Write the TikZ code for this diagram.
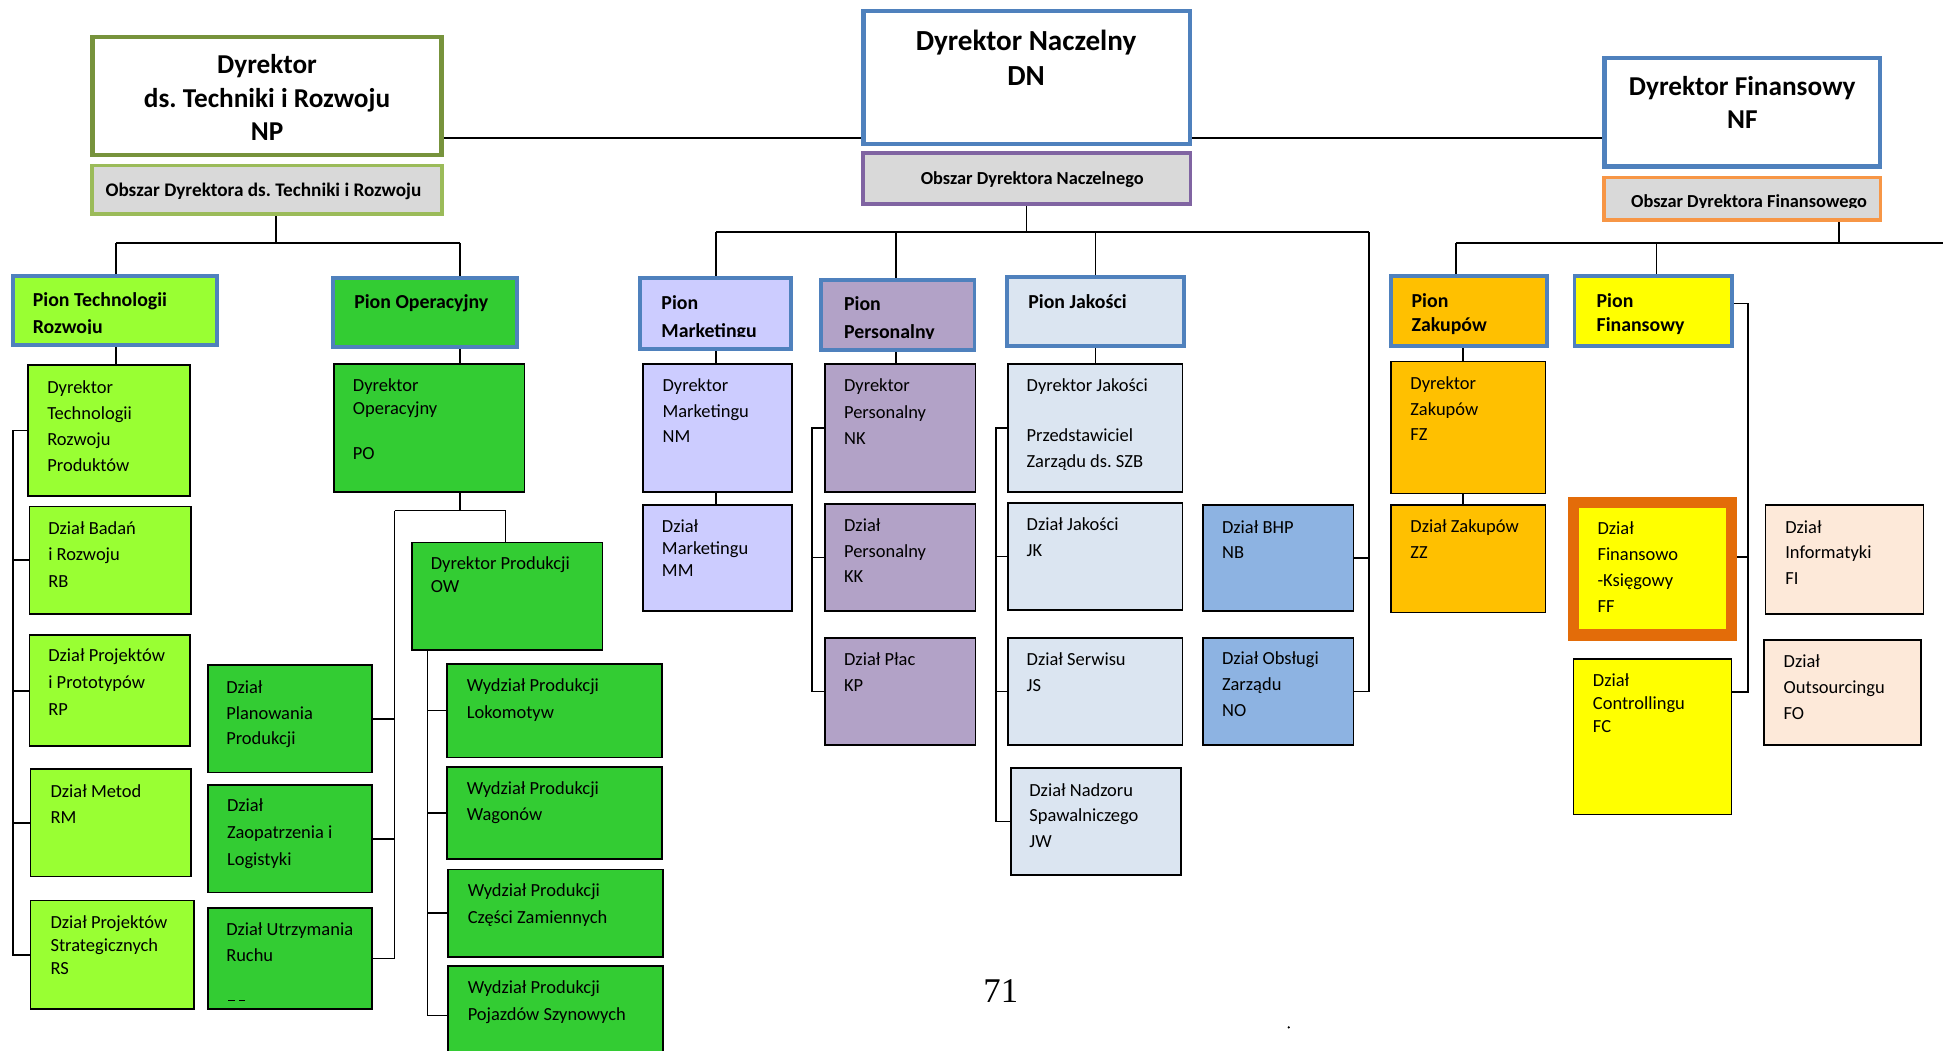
\documentclass[tikz,border=0pt]{standalone}
\usepackage{fontspec}
\setmainfont{Carlito}
\newfontfamily\pgnumfont{Liberation Serif}
\usetikzlibrary{backgrounds}
\definecolor{cOlive}{HTML}{77933C}
\definecolor{cLGreenBd}{HTML}{9BBB59}
\definecolor{cArea}{HTML}{D9D9D9}
\definecolor{cBlueBd}{HTML}{4F81BD}
\definecolor{cPurpleBd}{HTML}{8064A2}
\definecolor{cOrangeBd}{HTML}{F79646}
\definecolor{cFFBd}{HTML}{E36C09}
\definecolor{cLime}{HTML}{99FF33}
\definecolor{cGreen}{HTML}{33CC33}
\definecolor{cLav}{HTML}{CCCCFF}
\definecolor{cPurp}{HTML}{B2A2C7}
\definecolor{cIce}{HTML}{DBE5F1}
\definecolor{cMidBlue}{HTML}{8DB3E2}
\definecolor{cAmber}{HTML}{FFC000}
\definecolor{cYellow}{HTML}{FFFF00}
\definecolor{cPeach}{HTML}{FDE9D9}
% box: [inset]{name}{style}{x1}{y1}{x2}{y2}  (outer coordinates)
\newcommand\bx[7][0.7]{\node[#3,minimum width={#6-#4-2*#1},minimum height={#7-#5-2*#1}] (#2) at ({(#4+#6)/2},{(#5+#7)/2}) {};}
% text: {name}{style}{x}{baseline}{strut}{text}
\newcommand\tx[6]{\node[#2] (#1) at (#3,{#4-#5}) {\rule{0pt}{#5pt}#6};}
\begin{document}
\frenchspacing
\begin{tikzpicture}[x=1pt,y=-1pt,
  conn/.style={draw=black,line width=1.3pt},
  topbox/.style={draw=#1,line width=3.5pt,fill=white,inner sep=0pt,outer sep=0pt},
  areabox/.style={draw=#1,line width=2.8pt,fill=cArea,inner sep=0pt,outer sep=0pt},
  pionbox/.style={draw=cBlueBd,line width=3.2pt,fill=#1,inner sep=0pt,outer sep=0pt},
  unitbox/.style={draw=black,line width=1.4pt,fill=#1,inner sep=0pt,outer sep=0pt},
  ffbox/.style={draw=cFFBd,line width=9pt,fill=cYellow,inner sep=0pt,outer sep=0pt},
  ttl/.style={anchor=north,align=center,inner sep=0pt,font=\bfseries\fontsize{#1}{27.2}\selectfont},
  ttl/.default=22,
  areatxt/.style={anchor=north,inner sep=0pt,font=\bfseries\fontsize{#1}{18}\selectfont},
  piontxt/.style={anchor=north west,align=left,inner sep=0pt,font=\bfseries\fontsize{16}{#1}\selectfont},
  piontxt/.default=22,
  ut/.style={anchor=north west,align=left,inner sep=0pt,font=\fontsize{14.9}{#1}\selectfont},
  ut/.default=21.2]
\useasboundingbox (0,0) rectangle (1568,848);
\clip (0,0) rectangle (1568,848);
\begin{pgfonlayer}{background}
\fill[white] (0,0) rectangle (1568,848);
\end{pgfonlayer}

% ---------- top level ----------
\bx[1.75]{np}{topbox=cOlive}{73}{28}{358}{127}
\bx[1.4]{onp}{areabox=cLGreenBd}{73}{132}{358}{174}
\bx[1.75]{dn}{topbox=cBlueBd}{695}{7}{962}{118}
\bx[1.4]{odn}{areabox=cPurpleBd}{695}{122}{962}{166}
\bx[1.75]{nf}{topbox=cBlueBd}{1293}{45}{1519}{136}
\bx[1.4]{onf}{areabox=cOrangeBd}{1293}{142}{1519}{179}

\tx{npt}{ttl=22}{215.5}{59}{18.5}{Dyrektor\\ds. Techniki i Rozwoju\\NP}
\tx{dnt}{ttl=23.5,font=\bfseries\fontsize{23.5}{28.2}\selectfont}{828}{40.4}{18.5}{Dyrektor Naczelny\\DN}
\tx{nft}{ttl=22,font=\bfseries\fontsize{22}{26.8}\selectfont}{1406}{76.7}{18.5}{Dyrektor Finansowy\\NF}
\tx{onpt}{areatxt=15.5}{212.6}{158}{12.5}{Obszar Dyrektora ds. Techniki i Rozwoju}
\tx{odnt}{areatxt=14.8}{833}{148.8}{12.5}{Obszar Dyrektora Naczelnego}
\begin{scope}
\clip (1293,142) rectangle (1519,167.3);
\tx{onft}{areatxt=14.8}{1411.5}{167}{12.5}{Obszar Dyrektora Finansowego}
\end{scope}

% ---------- pions ----------
\bx[1.6]{pT}{pionbox=cLime}{9}{221}{177}{280}
\bx[1.6]{pO}{pionbox=cGreen}{267}{223}{419}{282}
\bx[1.6]{pM}{pionbox=cLav}{515}{223}{640}{283}
\bx[1.6]{pP}{pionbox=cPurp}{661}{224}{788}{284}
\bx[1.6]{pJ}{pionbox=cIce}{811}{222}{957}{281}
\bx[1.6]{pZ}{pionbox=cAmber}{1121}{221}{1250}{281}
\bx[1.6]{pF}{pionbox=cYellow}{1269}{221}{1399}{281}

\begin{scope}
\clip (9,221) rectangle (177,268.8);
\tx{pTt}{piontxt=22}{26.3}{247}{13}{Pion Technologii\\Rozwoju}
\end{scope}
\tx{pOt}{piontxt}{285.7}{248.7}{13}{Pion Operacyjny}
\begin{scope}
\clip (515,223) rectangle (640,271.8);
\tx{pMt}{piontxt=22.3}{533.6}{249.7}{13}{Pion\\Marketingu}
\end{scope}
\begin{scope}
\clip (661,224) rectangle (788,272.8);
\tx{pPt}{piontxt=22.3}{681}{250.7}{13}{Pion\\Personalny}
\end{scope}
\tx{pJt}{piontxt}{829.7}{248.8}{13}{Pion Jakości}
\tx{pZt}{piontxt=19}{1139}{248}{13}{Pion\\Zakupów}
\tx{pFt}{piontxt=19}{1288.3}{248}{13}{Pion\\Finansowy}

% ---------- units ----------
\bx{t1}{unitbox=cLime}{22}{294}{154}{401}
\bx{t2}{unitbox=cLime}{23}{408}{155}{496}
\bx{t3}{unitbox=cLime}{23}{512}{154}{603}
\bx{t4}{unitbox=cLime}{24}{620}{155}{708}
\bx{t5}{unitbox=cLime}{24}{726}{157}{815}
\bx{o1}{unitbox=cGreen}{269}{293}{424}{398}
\bx{o2}{unitbox=cGreen}{332}{437}{487}{525}
\bx{o3}{unitbox=cGreen}{167}{536}{301}{624}
\bx{o4}{unitbox=cGreen}{167}{633}{301}{721}
\bx{o5}{unitbox=cGreen}{167}{732}{301}{815}
\bx{w1}{unitbox=cGreen}{360}{535}{535}{612}
\bx{w2}{unitbox=cGreen}{360}{618}{535}{694}
\bx{w3}{unitbox=cGreen}{361}{701}{536}{773}
\bx{w4}{unitbox=cGreen}{361}{779}{536}{860}
\bx{m1}{unitbox=cLav}{518}{293}{640}{398}
\bx{m2}{unitbox=cLav}{518}{407}{640}{494}
\bx{p1}{unitbox=cPurp}{665}{293}{788}{398}
\bx{p2}{unitbox=cPurp}{665}{406}{788}{494}
\bx{p3}{unitbox=cPurp}{665}{514}{788}{602}
\bx{j1}{unitbox=cIce}{813}{293}{955}{398}
\bx{j2}{unitbox=cIce}{813}{405}{955}{493}
\bx{j3}{unitbox=cIce}{813}{514}{955}{602}
\bx{j4}{unitbox=cIce}{815}{619}{954}{707}
\bx{n1}{unitbox=cMidBlue}{970}{407}{1093}{494}
\bx{n2}{unitbox=cMidBlue}{970}{514}{1093}{602}
\bx{z1}{unitbox=cAmber}{1122}{291}{1248}{399}
\bx{z2}{unitbox=cAmber}{1122}{407}{1248}{495}
\bx[4.5]{f1}{ffbox}{1265}{401}{1402}{517}
\bx{f2}{unitbox=cYellow}{1269}{531}{1398}{658}
\bx{f3}{unitbox=cPeach}{1424}{407}{1553}{496}
\bx{f4}{unitbox=cPeach}{1423}{516}{1551}{602}

\tx{t1t}{ut=21.2}{38}{317}{12}{Dyrektor\\Technologii\\Rozwoju\\Produktów}
\tx{t2t}{ut=21.5}{38.8}{431}{12}{Dział Badań\\i Rozwoju\\RB}
\tx{t3t}{ut=21.5}{38.8}{534}{12}{Dział Projektów\\i Prototypów\\RP}
\tx{t4t}{ut=21.6}{40.6}{643}{12}{Dział Metod\\RM}
\tx{t5t}{ut=18.6}{40.6}{748.8}{12}{Dział Projektów\\Strategicznych\\RS}
\tx{o1t}{ut=18.5}{284.6}{315.4}{12}{Dyrektor\\Operacyjny\\[18.5pt]PO}
\tx{o2t}{ut=18.6}{347.5}{459}{12}{Dyrektor Produkcji\\OW}
\tx{o3t}{ut=20.75}{182.4}{559.5}{12}{Dział\\Planowania\\Produkcji}
\tx{o4t}{ut=21.5}{183}{655}{12}{Dział\\Zaopatrzenia i\\Logistyki}
\tx{o5t}{ut=21}{182.4}{755}{12}{Dział Utrzymania\\Ruchu}
\tx{w1t}{ut=22}{376.5}{558}{12}{Wydział Produkcji\\Lokomotyw}
\tx{w2t}{ut=20.7}{376.5}{641}{12}{Wydział Produkcji\\Wagonów}
\tx{w3t}{ut=21.2}{377.3}{723.6}{12}{Wydział Produkcji\\Części Zamiennych}
\tx{w4t}{ut=21.5}{377.3}{801.5}{12}{Wydział Produkcji\\Pojazdów Szynowych}
\tx{m1t}{ut=20.4}{534.5}{316}{12}{Dyrektor\\Marketingu\\NM}
\tx{m2t}{ut=17.9}{534}{429.3}{12}{Dział\\Marketingu\\MM}
\tx{p1t}{ut=21.1}{681}{316.1}{12}{Dyrektor\\Personalny\\NK}
\tx{p2t}{ut=20.8}{681}{428.5}{12}{Dział\\Personalny\\KK}
\tx{p3t}{ut=20.7}{681}{537}{12}{Dział Płac\\KP}
\tx{j1t}{ut=21.4}{828.3}{316}{12}{Dyrektor Jakości\\[18.6pt]Przedstawiciel\\Zarządu ds. SZB}
\tx{j2t}{ut=20.9}{828.3}{428.3}{12}{Dział Jakości\\JK}
\tx{j3t}{ut=20.7}{828.3}{537}{12}{Dział Serwisu\\JS}
\tx{j4t}{ut=20.8}{830.5}{642.3}{12}{Dział Nadzoru\\Spawalniczego\\JW}
\tx{n1t}{ut=20.8}{986}{430}{12}{Dział BHP\\NB}
\tx{n2t}{ut=21.2}{986}{536}{12}{Dział Obsługi\\Zarządu\\NO}
\tx{z1t}{ut=20.6}{1138}{314.3}{12}{Dyrektor\\Zakupów\\FZ}
\tx{z2t}{ut=21}{1138}{429.3}{12}{Dział Zakupów\\ZZ}
\tx{f1t}{ut=21}{1289}{430.8}{12}{Dział\\Finansowo\\-Księgowy\\FF}
\tx{f2t}{ut=18.7}{1285.3}{553.6}{12}{Dział\\Controllingu\\FC}
\tx{f3t}{ut=20.9}{1440.5}{430}{12}{Dział\\Informatyki\\FI}
\tx{f4t}{ut=20.9}{1439.2}{538.3}{12}{Dział\\Outsourcingu\\FO}

\draw[line width=1pt] (184.3,807.6) -- (189.7,807.6);
\draw[line width=1pt] (193.2,807.6) -- (197.7,807.6);

\node[font=\pgnumfont\fontsize{28}{32}\selectfont,inner sep=0pt] (pg) at (807.6,800) {71};
\node[circle,fill=black,inner sep=0pt,minimum size=2pt] (dot) at (1040,829) {};

% ---------- connectors ----------
\begin{pgfonlayer}{background}
\coordinate (hl) at (700,111.5);
\draw[conn] (np.east |- hl) -- (dn.west |- hl);
\draw[conn] (dn.east |- hl) -- (nf.west |- hl);

% NP area
\coordinate (npbL) at (93.7,196);
\coordinate (npbR) at (371,196);
\coordinate (npbM) at (222.7,196);
\draw[conn] (npbL) -- (npbR);
\draw[conn] (onp.south -| npbM) -- (npbM);
\draw[conn] (npbL) -- (npbL |- pT.north);
\draw[conn] (npbR) -- (npbR |- pO.north);
\draw[conn] (pT.south -| npbL) -- (npbL |- t1.north);
\coordinate (tb) at (10.5,0);
\draw[conn] (t1.west) -- (t1.west -| tb) -- (t5.west -| tb) -- (t5.west);
\foreach \n in {t2,t3,t4} \draw[conn] (\n.west) -- (\n.west -| tb);
\draw[conn] (pO.south -| npbR) -- (npbR |- o1.north);
\coordinate (ob) at (318.5,412);
\coordinate (obR) at (407.8,412);
\draw[conn] (o1.south -| npbR) -- (npbR |- ob);
\draw[conn] (ob) -- (obR) -- (obR |- o2.north);
\draw[conn] (ob) -- (ob |- o5.east) -- (o5.east);
\foreach \n in {o3,o4} \draw[conn] (\n.east) -- (\n.east -| ob);
\coordinate (wb) at (345.1,0);
\draw[conn] (wb |- o2.south) -- (wb |- w4.west) -- (w4.west);
\foreach \n in {w1,w2,w3} \draw[conn] (\n.west) -- (\n.west -| wb);

% DN area
\coordinate (dbL) at (577.7,187.3);
\coordinate (dbR) at (1104.7,187.3);
\coordinate (xP) at (723.3,187.3);
\coordinate (xJ) at (884.2,187.3);
\draw[conn] (dbL) -- (dbR);
\draw[conn] (odn.south) -- (odn.south |- dbL);
\draw[conn] (dbL) -- (dbL |- pM.north);
\draw[conn] (xP) -- (xP |- pP.north);
\draw[conn] (xJ) -- (xJ |- pJ.north);
\draw[conn] (pM.south -| dbL) -- (dbL |- m1.north);
\draw[conn] (m1.south -| dbL) -- (dbL |- m2.north);
\draw[conn] (pP.south -| xP) -- (xP |- p1.north);
\coordinate (pb) at (655.3,0);
\draw[conn] (p1.west) -- (p1.west -| pb) -- (p3.west -| pb) -- (p3.west);
\draw[conn] (p2.west) -- (p2.west -| pb);
\draw[conn] (pJ.south -| xJ) -- (xJ |- j1.north);
\coordinate (jb) at (803.6,0);
\draw[conn] (j1.west) -- (j1.west -| jb) -- (j4.west -| jb) -- (j4.west);
\foreach \n in {j2,j3} \draw[conn] (\n.west) -- (\n.west -| jb);
\draw[conn] (dbR) -- (dbR |- n2.east) -- (n2.east);
\draw[conn] (n1.east) -- (n1.east -| dbR);

% NF area
\coordinate (fbL) at (1174.8,195.9);
\coordinate (fbR) at (1568,195.9);
\coordinate (xF) at (1336.8,195.9);
\coordinate (xO) at (1484,195.9);
\draw[conn] (fbL) -- (fbR);
\draw[conn] (onf.south -| xO) -- (xO);
\draw[conn] (fbL) -- (fbL |- pZ.north);
\draw[conn] (xF) -- (xF |- pF.north);
\coordinate (xZ) at (1180.5,0);
\draw[conn] (pZ.south -| xZ) -- (xZ |- z1.north);
\draw[conn] (z1.south -| xZ) -- (xZ |- z2.north);
\coordinate (fb) at (1410.7,244.8);
\coordinate (ffT) at (1410.7,449.3);
\coordinate (fcT) at (1410.7,558.6);
\draw[conn] (pF.east |- fb) -- (fb) -- (fcT) -- (fcT -| f2.east);
\draw[conn] (ffT -| f1.east) -- (ffT);
\end{pgfonlayer}
\end{tikzpicture}
\end{document}
